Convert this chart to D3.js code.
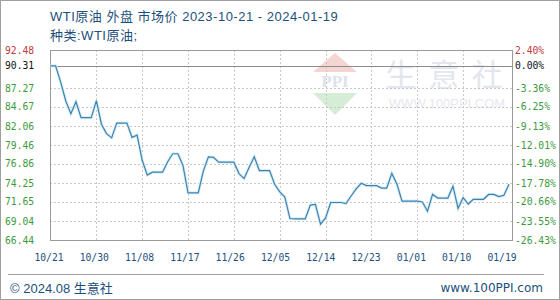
<!DOCTYPE html>
<html>
<head>
<meta charset="utf-8">
<script src="https://cdn.jsdelivr.net/npm/d3@7"></script>
<style>
	body { margin: 0; background: #fff; }
	svg { display: block; }
	.tick-l, .tick-r, .tick-x { font-family: "DejaVu Sans Mono", monospace; font-size: 9.7px; }
	.cn { font-family: "Liberation Sans", "Noto Sans CJK SC", sans-serif; }
</style>
</head>
<body>
<div id="chart"></div>
<script>
// chart data
var title = 'WTI原油 外盘 市场价 2023-10-21 - 2024-01-19';
var subTitle = '种类:WTI原油;';

var dates = [
	'2023-10-21', '2023-10-22', '2023-10-23', '2023-10-24', '2023-10-25', '2023-10-26', '2023-10-27', '2023-10-28', '2023-10-29', '2023-10-30', '2023-10-31',
	'2023-11-01', '2023-11-02', '2023-11-03', '2023-11-04', '2023-11-05', '2023-11-06', '2023-11-07', '2023-11-08', '2023-11-09', '2023-11-10',
	'2023-11-11', '2023-11-12', '2023-11-13', '2023-11-14', '2023-11-15', '2023-11-16', '2023-11-17', '2023-11-18', '2023-11-19', '2023-11-20',
	'2023-11-21', '2023-11-22', '2023-11-23', '2023-11-24', '2023-11-25', '2023-11-26', '2023-11-27', '2023-11-28', '2023-11-29', '2023-11-30',
	'2023-12-01', '2023-12-02', '2023-12-03', '2023-12-04', '2023-12-05', '2023-12-06', '2023-12-07', '2023-12-08', '2023-12-09', '2023-12-10',
	'2023-12-11', '2023-12-12', '2023-12-13', '2023-12-14', '2023-12-15', '2023-12-16', '2023-12-17', '2023-12-18', '2023-12-19', '2023-12-20',
	'2023-12-21', '2023-12-22', '2023-12-23', '2023-12-24', '2023-12-25', '2023-12-26', '2023-12-27', '2023-12-28', '2023-12-29', '2023-12-30',
	'2023-12-31', '2024-01-01', '2024-01-02', '2024-01-03', '2024-01-04', '2024-01-05', '2024-01-06', '2024-01-07', '2024-01-08', '2024-01-09',
	'2024-01-10', '2024-01-11', '2024-01-12', '2024-01-13', '2024-01-14', '2024-01-15', '2024-01-16', '2024-01-17', '2024-01-18', '2024-01-19'
];

var prices = [
	90.31, 90.31, 88.08, 85.49, 83.74, 85.39, 83.21, 83.21, 83.21, 85.54, 82.31,
	81.02, 80.44, 82.46, 82.46, 82.46, 80.51, 80.82, 77.37, 75.33, 75.74,
	75.74, 75.74, 77.17, 78.26, 78.26, 76.66, 72.90, 72.90, 72.90, 75.89,
	77.83, 77.77, 77.10, 77.10, 77.10, 77.10, 75.54, 74.86, 76.41, 77.86,
	75.96, 75.96, 75.96, 74.07, 73.04, 72.32, 69.38, 69.34, 69.34, 69.34,
	71.23, 71.32, 68.61, 69.47, 71.58, 71.58, 71.58, 71.43, 72.47, 73.44,
	74.22, 73.89, 73.89, 73.89, 73.56, 73.56, 75.57, 74.11, 71.77, 71.77,
	71.77, 71.77, 71.65, 70.38, 72.70, 72.19, 72.19, 72.19, 73.81, 70.77,
	72.24, 71.37, 72.02, 72.02, 72.02, 72.68, 72.68, 72.40, 72.56, 74.08
];

var basePrice = 90.31;
var yTicks = [92.48, 90.31, 87.27, 84.67, 82.06, 79.46, 76.86, 74.25, 71.65, 69.04, 66.44];
var pctTicks = ['2.40%', '0.00%', '-3.36%', '-6.25%', '-9.13%', '-12.01%', '-14.90%', '-17.78%', '-20.66%', '-23.55%', '-26.43%'];
var xTickDates = ['2023-10-21', '2023-10-30', '2023-11-08', '2023-11-17', '2023-11-26', '2023-12-05', '2023-12-14', '2023-12-23', '2024-01-01', '2024-01-10', '2024-01-19'];
var xTickLabels = ['10/21', '10/30', '11/08', '11/17', '11/26', '12/05', '12/14', '12/23', '01/01', '01/10', '01/19'];

var W = 560, H = 300;
var box = { left: 50, right: 512, top: 50, bottom: 240 };

var parse = d3.timeParse('%Y-%m-%d');
var data = dates.map(function (d, i) {
	return { date: parse(d), price: prices[i] };
});

var svg = d3.select('#chart').append('svg')
	.attr('width', W)
	.attr('height', H);

// outer frame
svg.append('rect')
	.attr('x', 0.5).attr('y', 0.5)
	.attr('width', W - 1).attr('height', H - 1)
	.attr('fill', '#fff')
	.attr('stroke', '#a0a0a0');

var x = d3.scaleTime()
	.domain(d3.extent(data, function (d) { return d.date; }))
	.range([box.left + 0.5, 509]);
// labels sit a little left of their grid lines in the original
var xLabel = d3.scaleTime()
	.domain(x.domain())
	.range([49, 502]);
var y = d3.scaleLinear()
	.domain([yTicks[yTicks.length - 1], yTicks[0]])
	.range([box.bottom, box.top]);

// watermark
var wm = svg.append('g').attr('class', 'watermark');
wm.append('path')
	.attr('d', 'M313,72 L335,53 L357,72 Z')
	.attr('fill', '#f3d6d2');
wm.append('path')
	.attr('d', 'M313,93 L357,93 L335,115 Z')
	.attr('fill', '#d5ecd6');
wm.append('text')
	.attr('x', 335).attr('y', 87)
	.attr('text-anchor', 'middle')
	.attr('font-family', 'Liberation Serif, serif')
	.attr('font-size', 17)
	.attr('font-weight', 'bold')
	.attr('fill', '#dde2ea')
	.text('PPI');
wm.append('text')
	.attr('x', 450).attr('y', 86)
	.attr('text-anchor', 'middle')
	.attr('font-family', 'Noto Sans CJK SC, sans-serif')
	.attr('font-size', 31)
	.attr('letter-spacing', 12)
	.attr('fill', '#e3e6ee')
	.text('生意社');
wm.append('text')
	.attr('x', 447).attr('y', 108)
	.attr('text-anchor', 'middle')
	.attr('font-family', 'Liberation Sans, sans-serif')
	.attr('font-size', 13)
	.attr('fill', '#e6e8ee')
	.text('WWW.100PPI.COM');

// grid
var grid = svg.append('g');
grid.selectAll('.hgrid')
	.data(yTicks.slice(2, yTicks.length - 1))
	.enter().append('line')
	.attr('x1', box.left).attr('x2', box.right)
	.attr('y1', function (d) { return Math.round(y(d)) + 0.5; })
	.attr('y2', function (d) { return Math.round(y(d)) + 0.5; })
	.attr('stroke', '#c8c8c8')
	.attr('stroke-dasharray', '2,2');
grid.selectAll('.vgrid')
	.data(xTickDates.slice(1, xTickDates.length - 1))
	.enter().append('line')
	.attr('x1', function (d) { return Math.round(x(parse(d))) + 0.5; })
	.attr('x2', function (d) { return Math.round(x(parse(d))) + 0.5; })
	.attr('y1', box.top).attr('y2', box.bottom)
	.attr('stroke', '#c8c8c8')
	.attr('stroke-dasharray', '2,2');

// base line at start price
svg.append('line')
	.attr('x1', box.left).attr('x2', box.right)
	.attr('y1', Math.round(y(basePrice)) + 0.5)
	.attr('y2', Math.round(y(basePrice)) + 0.5)
	.attr('stroke', '#8c8c8c');

// plot frame
svg.append('rect')
	.attr('x', box.left + 0.5).attr('y', box.top + 0.5)
	.attr('width', box.right - box.left).attr('height', box.bottom - box.top)
	.attr('fill', 'none')
	.attr('stroke', '#9a9a9a');

// price line
var line = d3.line()
	.x(function (d) { return x(d.date); })
	.y(function (d) { return y(d.price); });

svg.append('path')
	.datum(data)
	.attr('d', line)
	.attr('fill', 'none')
	.attr('stroke', '#d6eef8')
	.attr('stroke-width', 3);
svg.append('path')
	.datum(data)
	.attr('d', line)
	.attr('fill', 'none')
	.attr('stroke', '#3f82ad')
	.attr('stroke-width', 1.2);

// left axis labels
var tickColor = function (i) {
	return i === 0 ? '#c0393b' : (i === 1 ? '#111' : '#3c9a3c');
};
svg.selectAll('.tick-l')
	.data(yTicks)
	.enter().append('text')
	.attr('class', 'tick-l')
	.attr('x', 5)
	.attr('y', function (d) { return y(d) + 3.5; })
	.attr('fill', function (d, i) { return tickColor(i); })
	.text(function (d) { return d.toFixed(2); });

// right axis labels
svg.selectAll('.tick-r')
	.data(yTicks)
	.enter().append('text')
	.attr('class', 'tick-r')
	.attr('x', 515)
	.attr('y', function (d) { return y(d) + 3.5; })
	.attr('fill', function (d, i) { return tickColor(i); })
	.text(function (d, i) { return pctTicks[i]; });

// x axis labels
svg.selectAll('.tick-x')
	.data(xTickDates)
	.enter().append('text')
	.attr('class', 'tick-x')
	.attr('x', function (d) { return xLabel(parse(d)); })
	.attr('y', 261)
	.attr('text-anchor', 'middle')
	.attr('fill', '#1d4f7c')
	.text(function (d, i) { return xTickLabels[i]; });

// titles
svg.append('text')
	.attr('class', 'cn')
	.attr('x', 50).attr('y', 21)
	.attr('font-size', 13)
	.attr('letter-spacing', 0.5)
	.attr('fill', '#1d4f7c')
	.text(title);
svg.append('text')
	.attr('class', 'cn')
	.attr('x', 50).attr('y', 40)
	.attr('font-size', 13)
	.attr('letter-spacing', 0.5)
	.attr('fill', '#1d4f7c')
	.text(subTitle);

// footer
svg.append('line')
	.attr('x1', 8).attr('x2', 544)
	.attr('y1', 274.5).attr('y2', 274.5)
	.attr('stroke', '#a0a0a0');
svg.append('text')
	.attr('class', 'cn')
	.attr('x', 10).attr('y', 293)
	.attr('font-size', 13)
	.attr('fill', '#1d4f7c')
	.text('© 2024.08 生意社');
svg.append('text')
	.attr('x', 543).attr('y', 292)
	.attr('text-anchor', 'end')
	.attr('font-family', 'DejaVu Sans, sans-serif')
	.attr('font-size', 12)
	.attr('fill', '#1d4f7c')
	.text('www.100PPI.com');
</script>
</body>
</html>
